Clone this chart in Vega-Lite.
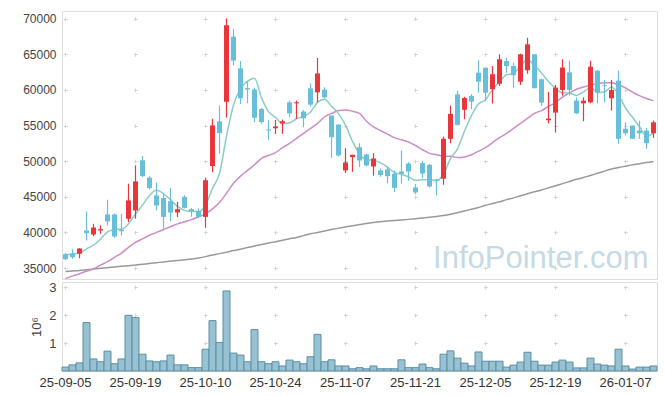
{
  "$schema": "https://vega.github.io/schema/vega-lite/v6.json",
  "padding": {"left": 0, "top": 10, "right": 9, "bottom": 5},
  "background": "white",
  "spacing": 0,
  "config": {
    "view": {"stroke": "#dddddd"},
    "font": "Liberation Sans",
    "axis": {"labelColor": "#444444", "titleColor": "#444444", "labelFont": "Liberation Sans", "titleFont": "Liberation Sans", "gridColor": "#d6d6d6", "gridWidth": 1, "labelOverlap": false},
    "axisY": {"labelOverlap": false, "labelFontSize": 12}
  },
  "datasets": {
    "px": [
      {"d":"25-09-05","o":36940,"h":37080,"l":36150,"c":36240,"v":140000,"ma5":36900,"ma20":33500,"ma120":34500},
      {"d":"25-09-08","o":37040,"h":37640,"l":36290,"c":36520,"v":220000,"ma5":36950,"ma20":33900,"ma120":34580},
      {"d":"25-09-09","o":36990,"h":37800,"l":36380,"c":37740,"v":290000,"ma5":37100,"ma20":34200,"ma120":34660},
      {"d":"25-09-10","o":40270,"h":42940,"l":38870,"c":39890,"v":1730000,"ma5":37700,"ma20":34550,"ma120":34760},
      {"d":"25-09-11","o":39710,"h":41210,"l":39470,"c":40690,"v":430000,"ma5":38216,"ma20":34900,"ma120":34860},
      {"d":"25-09-12","o":40270,"h":40980,"l":39810,"c":40460,"v":330000,"ma5":39060,"ma20":35400,"ma120":34960},
      {"d":"25-09-15","o":42520,"h":44590,"l":40980,"c":41540,"v":710000,"ma5":40064,"ma20":35900,"ma120":35050},
      {"d":"25-09-16","o":42520,"h":42660,"l":39250,"c":39430,"v":260000,"ma5":40402,"ma20":36500,"ma120":35150},
      {"d":"25-09-17","o":40370,"h":42620,"l":39570,"c":40170,"v":430000,"ma5":40458,"ma20":37100,"ma120":35240},
      {"d":"25-09-18","o":41920,"h":46840,"l":41440,"c":44490,"v":1990000,"ma5":41218,"ma20":37900,"ma120":35330},
      {"d":"25-09-19","o":43080,"h":49410,"l":41920,"c":47160,"v":1910000,"ma5":42558,"ma20":38600,"ma120":35420},
      {"d":"25-09-22","o":50120,"h":50720,"l":47770,"c":47910,"v":600000,"ma5":43832,"ma20":39100,"ma120":35530},
      {"d":"25-09-23","o":47680,"h":47910,"l":46040,"c":46220,"v":360000,"ma5":45190,"ma20":39600,"ma120":35640},
      {"d":"25-09-24","o":45190,"h":46980,"l":43080,"c":43790,"v":330000,"ma5":45914,"ma20":40000,"ma120":35750},
      {"d":"25-09-25","o":44840,"h":45460,"l":40560,"c":42180,"v":360000,"ma5":45452,"ma20":40400,"ma120":35860},
      {"d":"25-09-26","o":44380,"h":46240,"l":41580,"c":42800,"v":570000,"ma5":44580,"ma20":40800,"ma120":35960},
      {"d":"25-09-29","o":42800,"h":44280,"l":42180,"c":43260,"v":220000,"ma5":43650,"ma20":41200,"ma120":36060},
      {"d":"25-09-30","o":44980,"h":45220,"l":43360,"c":43440,"v":220000,"ma5":43094,"ma20":41500,"ma120":36160},
      {"d":"25-10-01","o":43260,"h":43440,"l":42180,"c":42980,"v":120000,"ma5":42932,"ma20":41800,"ma120":36260},
      {"d":"25-10-02","o":43020,"h":43360,"l":41960,"c":42180,"v":120000,"ma5":42932,"ma20":42200,"ma120":36400},
      {"d":"25-10-10","o":42180,"h":47700,"l":40640,"c":47320,"v":780000,"ma5":43836,"ma20":42600,"ma120":36600},
      {"d":"25-10-13","o":49320,"h":55960,"l":48480,"c":55020,"v":1800000,"ma5":46188,"ma20":43300,"ma120":36820},
      {"d":"25-10-14","o":55580,"h":57820,"l":51060,"c":53940,"v":1020000,"ma5":48288,"ma20":44200,"ma120":37020},
      {"d":"25-10-15","o":58340,"h":70040,"l":56110,"c":69080,"v":2860000,"ma5":53508,"ma20":45500,"ma120":37230},
      {"d":"25-10-16","o":67480,"h":68560,"l":63450,"c":64120,"v":640000,"ma5":57896,"ma20":46900,"ma120":37450},
      {"d":"25-10-17","o":63030,"h":64050,"l":58030,"c":58830,"v":570000,"ma5":60198,"ma20":47900,"ma120":37650},
      {"d":"25-10-20","o":60250,"h":61250,"l":58130,"c":60070,"v":330000,"ma5":61208,"ma20":48700,"ma120":37880},
      {"d":"25-10-21","o":60070,"h":60300,"l":55490,"c":56100,"v":1480000,"ma5":61640,"ma20":49500,"ma120":38100},
      {"d":"25-10-22","o":57320,"h":57460,"l":55260,"c":55490,"v":330000,"ma5":58922,"ma20":50400,"ma120":38300},
      {"d":"25-10-23","o":54440,"h":55800,"l":53000,"c":54300,"v":260000,"ma5":56958,"ma20":50800,"ma120":38500},
      {"d":"25-10-24","o":54620,"h":55800,"l":53840,"c":54860,"v":330000,"ma5":56164,"ma20":51200,"ma120":38700},
      {"d":"25-10-27","o":55320,"h":55840,"l":53840,"c":55600,"v":180000,"ma5":55270,"ma20":51900,"ma120":38900},
      {"d":"25-10-28","o":58260,"h":58500,"l":56160,"c":56720,"v":390000,"ma5":55394,"ma20":52500,"ma120":39100},
      {"d":"25-10-29","o":58120,"h":58500,"l":55940,"c":58260,"v":330000,"ma5":55948,"ma20":53200,"ma120":39300},
      {"d":"25-10-30","o":56960,"h":57200,"l":54760,"c":56020,"v":260000,"ma5":56292,"ma20":53900,"ma120":39550},
      {"d":"25-10-31","o":60220,"h":60920,"l":57660,"c":57940,"v":510000,"ma5":56908,"ma20":54600,"ma120":39800},
      {"d":"25-11-03","o":59660,"h":64480,"l":58260,"c":62320,"v":1310000,"ma5":58252,"ma20":55300,"ma120":40000},
      {"d":"25-11-04","o":60040,"h":60360,"l":58820,"c":58960,"v":330000,"ma5":58700,"ma20":56200,"ma120":40200},
      {"d":"25-11-05","o":56400,"h":56400,"l":50480,"c":53370,"v":400000,"ma5":57722,"ma20":56700,"ma120":40400},
      {"d":"25-11-06","o":55140,"h":55140,"l":50660,"c":50800,"v":180000,"ma5":56678,"ma20":57100,"ma120":40600},
      {"d":"25-11-07","o":48700,"h":51820,"l":48350,"c":49820,"v":180000,"ma5":55054,"ma20":57200,"ma120":40780},
      {"d":"25-11-10","o":50570,"h":50900,"l":48500,"c":50900,"v":80000,"ma5":52770,"ma20":57000,"ma120":40950},
      {"d":"25-11-11","o":51960,"h":52520,"l":49160,"c":50100,"v":120000,"ma5":50998,"ma20":56700,"ma120":41100},
      {"d":"25-11-12","o":50940,"h":51040,"l":49260,"c":49400,"v":80000,"ma5":50204,"ma20":55600,"ma120":41250},
      {"d":"25-11-13","o":49260,"h":51120,"l":47960,"c":50380,"v":180000,"ma5":50120,"ma20":54800,"ma120":41380},
      {"d":"25-11-14","o":48700,"h":49000,"l":47820,"c":48050,"v":80000,"ma5":49766,"ma20":54300,"ma120":41500},
      {"d":"25-11-17","o":48840,"h":49220,"l":46900,"c":47900,"v":80000,"ma5":49166,"ma20":53800,"ma120":41600},
      {"d":"25-11-18","o":48230,"h":48700,"l":45650,"c":46250,"v":80000,"ma5":48396,"ma20":53300,"ma120":41680},
      {"d":"25-11-19","o":48560,"h":51520,"l":46850,"c":48230,"v":400000,"ma5":48162,"ma20":53000,"ma120":41750},
      {"d":"25-11-20","o":49660,"h":49890,"l":47240,"c":48540,"v":120000,"ma5":47794,"ma20":52700,"ma120":41830},
      {"d":"25-11-21","o":46310,"h":46780,"l":45380,"c":45610,"v":120000,"ma5":47306,"ma20":52200,"ma120":41920},
      {"d":"25-11-24","o":49730,"h":50050,"l":47620,"c":48270,"v":250000,"ma5":47380,"ma20":51600,"ma120":42020},
      {"d":"25-11-25","o":49490,"h":49590,"l":46310,"c":46450,"v":120000,"ma5":47420,"ma20":51100,"ma120":42130},
      {"d":"25-11-26","o":47440,"h":47490,"l":45190,"c":47350,"v":80000,"ma5":47244,"ma20":50900,"ma120":42250},
      {"d":"25-11-27","o":47540,"h":53460,"l":46690,"c":53140,"v":600000,"ma5":48164,"ma20":50700,"ma120":42380},
      {"d":"25-11-28","o":53140,"h":57800,"l":52520,"c":56640,"v":720000,"ma5":50370,"ma20":50700,"ma120":42550},
      {"d":"25-12-01","o":59380,"h":59900,"l":55000,"c":55100,"v":460000,"ma5":51736,"ma20":50500,"ma120":42760},
      {"d":"25-12-02","o":57220,"h":59050,"l":55870,"c":58860,"v":280000,"ma5":54218,"ma20":50600,"ma120":43000},
      {"d":"25-12-03","o":59160,"h":59400,"l":57300,"c":58360,"v":180000,"ma5":56420,"ma20":50900,"ma120":43250},
      {"d":"25-12-04","o":62420,"h":64160,"l":59620,"c":61160,"v":680000,"ma5":58024,"ma20":51400,"ma120":43500},
      {"d":"25-12-05","o":63120,"h":63120,"l":58460,"c":59620,"v":350000,"ma5":58620,"ma20":51900,"ma120":43800},
      {"d":"25-12-08","o":60100,"h":63360,"l":58080,"c":62200,"v":350000,"ma5":60040,"ma20":52600,"ma120":44050},
      {"d":"25-12-09","o":60880,"h":65000,"l":60560,"c":64300,"v":350000,"ma5":61128,"ma20":53300,"ma120":44300},
      {"d":"25-12-10","o":64060,"h":64520,"l":62420,"c":63360,"v":140000,"ma5":62128,"ma20":53900,"ma120":44600},
      {"d":"25-12-11","o":63360,"h":63830,"l":60320,"c":62060,"v":210000,"ma5":62308,"ma20":54600,"ma120":44850},
      {"d":"25-12-12","o":61160,"h":65090,"l":60700,"c":65000,"v":320000,"ma5":63384,"ma20":55300,"ma120":45150},
      {"d":"25-12-15","o":62760,"h":67320,"l":62280,"c":66400,"v":670000,"ma5":64224,"ma20":56000,"ma120":45430},
      {"d":"25-12-16","o":65000,"h":65000,"l":60240,"c":60240,"v":350000,"ma5":63412,"ma20":56700,"ma120":45700},
      {"d":"25-12-17","o":61500,"h":61580,"l":57760,"c":58220,"v":210000,"ma5":62384,"ma20":57100,"ma120":45950},
      {"d":"25-12-18","o":55750,"h":59720,"l":55300,"c":55980,"v":210000,"ma5":61168,"ma20":57700,"ma120":46250},
      {"d":"25-12-19","o":56820,"h":60700,"l":54020,"c":60330,"v":320000,"ma5":60234,"ma20":58200,"ma120":46550},
      {"d":"25-12-22","o":60000,"h":64300,"l":59200,"c":63140,"v":390000,"ma5":59582,"ma20":59000,"ma120":46850},
      {"d":"25-12-23","o":62460,"h":64100,"l":59200,"c":60000,"v":320000,"ma5":59534,"ma20":59600,"ma120":47150},
      {"d":"25-12-24","o":58500,"h":58960,"l":56640,"c":56720,"v":110000,"ma5":59234,"ma20":60100,"ma120":47450},
      {"d":"25-12-26","o":58120,"h":58960,"l":55600,"c":58500,"v":110000,"ma5":59738,"ma20":60400,"ma120":47700},
      {"d":"25-12-29","o":58260,"h":64100,"l":58120,"c":63260,"v":460000,"ma5":60324,"ma20":60700,"ma120":48000},
      {"d":"25-12-30","o":62700,"h":62800,"l":58120,"c":59660,"v":250000,"ma5":59628,"ma20":60900,"ma120":48300},
      {"d":"26-01-02","o":60700,"h":61400,"l":58260,"c":60600,"v":210000,"ma5":59748,"ma20":61000,"ma120":48600},
      {"d":"26-01-05","o":58830,"h":61400,"l":57100,"c":60000,"v":180000,"ma5":60404,"ma20":61000,"ma120":48900},
      {"d":"26-01-06","o":61300,"h":62700,"l":52440,"c":53140,"v":780000,"ma5":59332,"ma20":60700,"ma120":49100},
      {"d":"26-01-07","o":54540,"h":55460,"l":53600,"c":53920,"v":180000,"ma5":57464,"ma20":60300,"ma120":49300},
      {"d":"26-01-08","o":55000,"h":55000,"l":53140,"c":53140,"v":70000,"ma5":56160,"ma20":59700,"ma120":49500},
      {"d":"26-01-09","o":54300,"h":55700,"l":53140,"c":53920,"v":140000,"ma5":54824,"ma20":59200,"ma120":49650},
      {"d":"26-01-12","o":54300,"h":54680,"l":51740,"c":52520,"v":140000,"ma5":53500,"ma20":58800,"ma120":49800},
      {"d":"26-01-13","o":53920,"h":55700,"l":53280,"c":55460,"v":180000,"ma5":53900,"ma20":58500,"ma120":49970}
    ]
  },
  "vconcat": [
    {
      "width": 595,
      "height": 268,
      "data": {"name": "px"},
      "encoding": {
        "x": {
          "field": "d", "type": "ordinal",
          "scale": {"type": "band", "paddingInner": 0, "paddingOuter": 0},
          "axis": {"values": ["25-09-05", "25-09-19", "25-10-10", "25-10-24", "25-11-07", "25-11-21", "25-12-05", "25-12-19", "26-01-07"], "labels": false, "ticks": false, "domain": false, "title": null, "grid": true, "gridDash": [4, 31.62], "gridDashOffset": 29.93}
        }
      },
      "layer": [
        {
          "mark": {"type": "bar", "width": {"band": 0.72}, "clip": true},
          "encoding": {
            "y": {
              "field": "o", "type": "quantitative",
              "scale": {"domain": [33460, 71080], "nice": false, "zero": false},
              "axis": {"values": [35000, 40000, 45000, 50000, 55000, 60000, 65000, 70000], "tickCount": 20, "format": "d", "labelOverlap": false, "ticks": false, "domain": false, "grid": true, "gridDash": [4, 66], "gridDashOffset": 68.5, "labelFontSize": 12, "labelPadding": 6, "title": null, "minExtent": 61, "maxExtent": 61}
            },
            "y2": {"field": "c"},
            "color": {"condition": {"test": "datum.c >= datum.o", "value": "#e8363b"}, "value": "#67bfd9"},
            "opacity": {"value": 0}
          }
        },
        {
          "data": {"values": [{"t": "InfoPointer.com"}]},
          "mark": {"type": "text", "align": "right", "baseline": "alphabetic", "fontSize": 31, "font": "Liberation Sans", "color": "#c6dae5", "dx": 2},
          "encoding": {
            "x": {"datum": "26-01-12"},
            "y": {"datum": 35000, "type": "quantitative"},
            "text": {"field": "t"}
          }
        },
        {
          "mark": {"type": "line", "color": "#999999", "strokeWidth": 1.5, "interpolate": "monotone", "clip": true},
          "encoding": {"y": {"field": "ma120", "type": "quantitative"}}
        },
        {
          "mark": {"type": "line", "color": "#cc8cc8", "strokeWidth": 1.5, "interpolate": "monotone", "clip": true},
          "encoding": {"y": {"field": "ma20", "type": "quantitative"}}
        },
        {
          "mark": {"type": "line", "color": "#8ccdc5", "strokeWidth": 1.5, "interpolate": "monotone", "clip": true},
          "encoding": {"y": {"field": "ma5", "type": "quantitative"}}
        },
        {
          "mark": {"type": "rule", "strokeWidth": 1.2, "clip": true},
          "encoding": {
            "y": {"field": "l", "type": "quantitative"},
            "y2": {"field": "h"},
            "color": {"condition": {"test": "datum.c >= datum.o", "value": "#e8363b"}, "value": "#67bfd9"}
          }
        },
        {
          "mark": {"type": "bar", "width": {"band": 0.72}, "clip": true},
          "encoding": {
            "y": {"field": "o", "type": "quantitative"},
            "y2": {"field": "c"},
            "color": {"condition": {"test": "datum.c >= datum.o", "value": "#e8363b"}, "value": "#67bfd9"}
          }
        }
      ],
      "resolve": {"scale": {"y": "shared"}}
    },
    {
      "width": 595,
      "height": 89,
      "data": {"name": "px"},
      "mark": {"type": "bar", "color": "#98c1d2", "stroke": "#5b8fa6", "strokeWidth": 1},
      "encoding": {
        "x": {
          "field": "d", "type": "ordinal",
          "scale": {"type": "band", "paddingInner": 0, "paddingOuter": 0},
          "axis": {"values": ["25-09-05", "25-09-19", "25-10-10", "25-10-24", "25-11-07", "25-11-21", "25-12-05", "25-12-19", "26-01-07"], "labelAngle": 0, "ticks": false, "domain": false, "grid": true, "gridDash": [4, 23.99], "gridDashOffset": 24.95, "labelFontSize": 13, "labelPadding": 5, "labelColor": "#333333", "title": null}
        },
        "y": {
          "field": "v", "type": "quantitative",
          "scale": {"domain": [0, 3180000], "nice": false},
          "axis": {"values": [1000000, 2000000, 3000000], "tickCount": 10, "labelExpr": "datum.value / 1000000", "labelOverlap": false, "ticks": false, "domain": false, "grid": true, "gridDash": [4, 66], "gridDashOffset": 68.5, "labelFontSize": 13, "labelPadding": 6, "title": "10⁶", "titleFontSize": 13, "titleFontWeight": "normal", "titlePadding": 4, "minExtent": 15, "maxExtent": 15}
        }
      }
    }
  ]
}
